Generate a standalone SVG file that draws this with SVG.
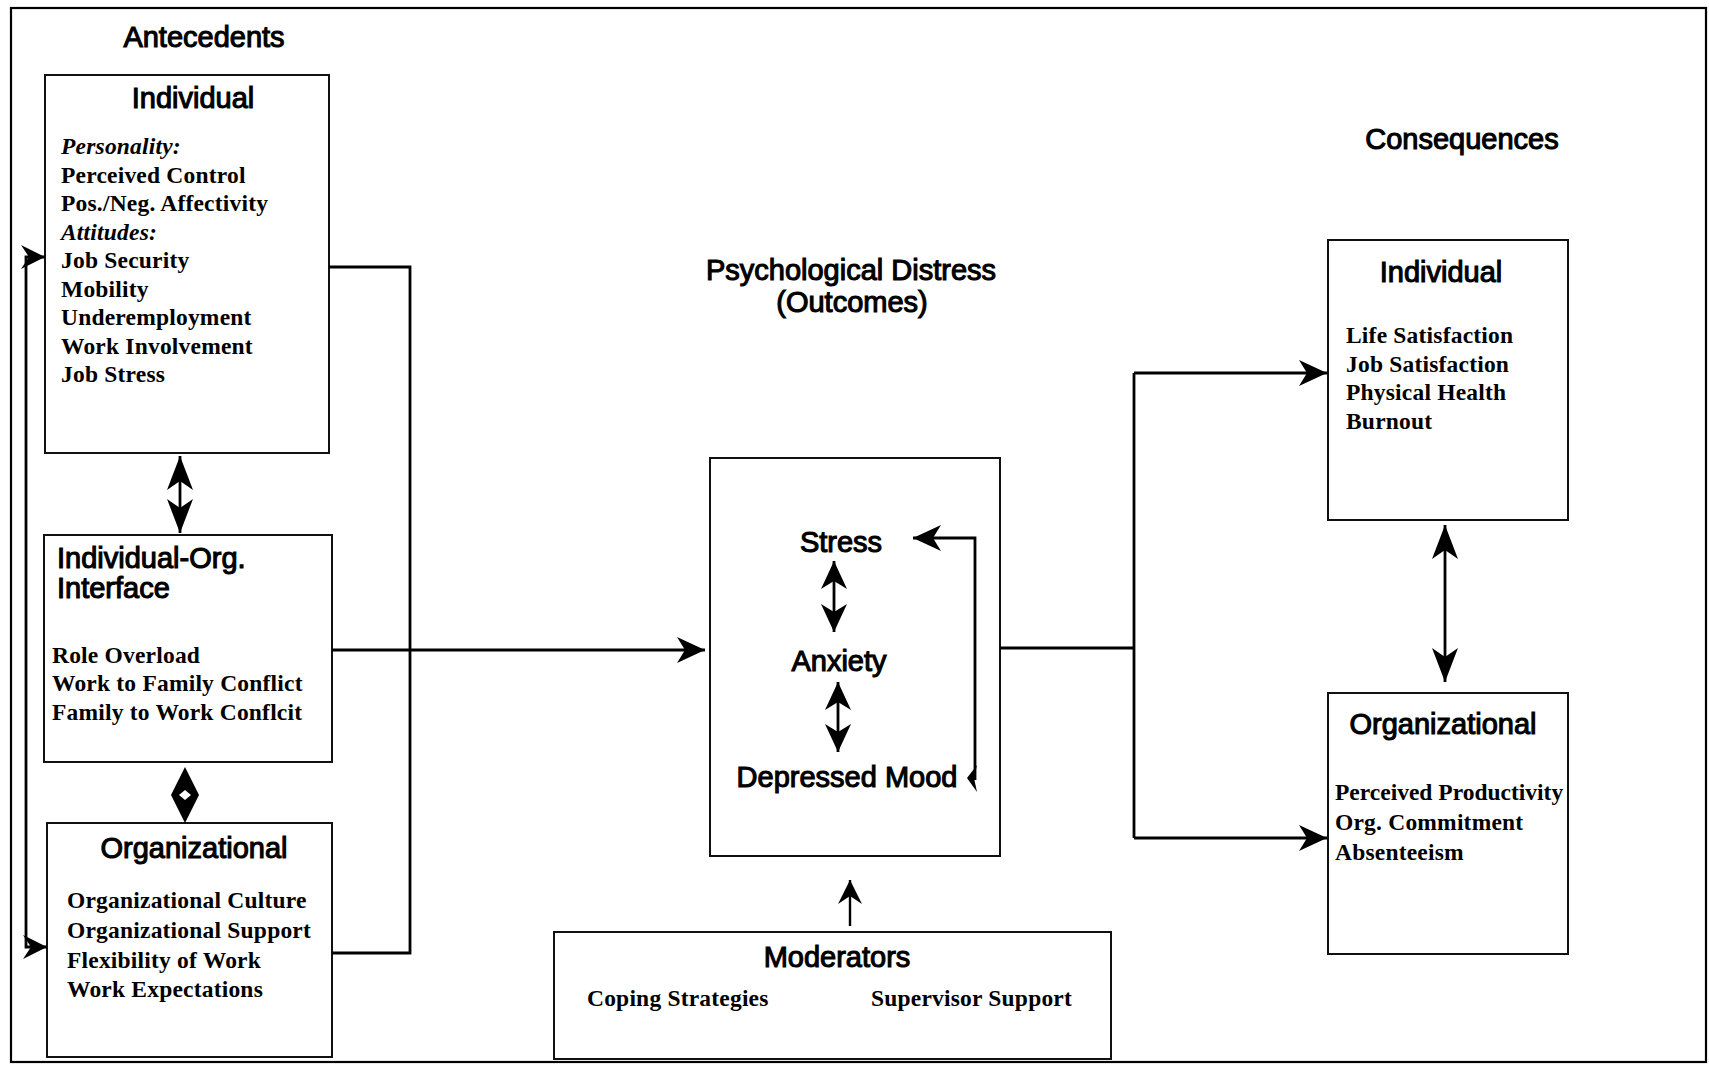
<svg xmlns="http://www.w3.org/2000/svg" width="1709" height="1065" viewBox="0 0 1709 1065">
  <style>
    .frame { fill: none; stroke: #000; stroke-width: 2.2; }
    .box { fill: #fff; stroke: #111; stroke-width: 2; }
    .open { fill: none; stroke: #111; stroke-width: 2; }
    .head { font-family: "Liberation Sans", Arial, sans-serif; font-size: 29px; fill: #000; stroke: #000; stroke-width: 1.1; }
    .item { font-family: "Liberation Serif", "Times New Roman", serif; font-size: 23.5px; font-weight: bold; fill: #000; letter-spacing: 0.2px; }
    .tight { letter-spacing: 0; }
    .itl { font-style: italic; }
    .wire { fill: none; stroke: #000; stroke-width: 2.8; }
    .thin { fill: none; stroke: #000; stroke-width: 2.4; }
  </style>
  <defs>
    <marker id="arrow" viewBox="-30 -15 32 30" refX="0" refY="0" markerWidth="32" markerHeight="30" markerUnits="userSpaceOnUse" orient="auto-start-reverse">
      <path d="M0,0 L-28,-13 L-20,0 L-28,13 Z" fill="#000"/>
    </marker>
    <marker id="arrowL" viewBox="-36 -15 38 30" refX="0" refY="0" markerWidth="38" markerHeight="30" markerUnits="userSpaceOnUse" orient="auto-start-reverse">
      <path d="M0,0 L-34,-13 L-25,0 L-34,13 Z" fill="#000"/>
    </marker>
    <marker id="arrowS" viewBox="-26 -13 28 26" refX="0" refY="0" markerWidth="28" markerHeight="26" markerUnits="userSpaceOnUse" orient="auto-start-reverse">
      <path d="M0,0 L-24,-12 L-16,0 L-24,12 Z" fill="#000"/>
    </marker>
  </defs>

  <rect class="frame" x="11" y="8" width="1695" height="1054"/>

  <!-- section captions -->
  <text class="head" x="204" y="47" text-anchor="middle">Antecedents</text>
  <text class="head" x="851" y="280" text-anchor="middle">Psychological Distress</text>
  <text class="head" x="852" y="312" text-anchor="middle">(Outcomes)</text>
  <text class="head" x="1462" y="149" text-anchor="middle">Consequences</text>

  <!-- Antecedents: Individual -->
  <g id="ant-individual">
    <rect class="box" x="45" y="75" width="284" height="378"/>
    <text class="head" x="193" y="108" text-anchor="middle">Individual</text>
    <text class="item itl" x="61" y="154">Personality:</text>
    <text class="item" x="61" y="182.5">Perceived Control</text>
    <text class="item" x="61" y="211">Pos./Neg. Affectivity</text>
    <text class="item itl" x="61" y="239.5">Attitudes:</text>
    <text class="item" x="61" y="268">Job Security</text>
    <text class="item" x="61" y="296.5">Mobility</text>
    <text class="item" x="61" y="325">Underemployment</text>
    <text class="item" x="61" y="353.5">Work Involvement</text>
    <text class="item" x="61" y="382">Job Stress</text>
  </g>

  <!-- Antecedents: Individual-Org. Interface -->
  <g id="ant-interface">
    <rect class="box" x="44" y="535" width="288" height="227"/>
    <text class="head" x="57" y="568">Individual-Org.</text>
    <text class="head" x="57" y="598">Interface</text>
    <text class="item" x="52" y="663">Role Overload</text>
    <text class="item" x="52" y="691">Work to Family Conflict</text>
    <text class="item" x="52" y="720">Family to Work Conflcit</text>
  </g>

  <!-- Antecedents: Organizational -->
  <g id="ant-organizational">
    <rect class="box" x="47" y="823" width="285" height="234"/>
    <text class="head" x="194" y="858" text-anchor="middle">Organizational</text>
    <text class="item" x="67" y="908">Organizational Culture</text>
    <text class="item" x="67" y="938">Organizational Support</text>
    <text class="item" x="67" y="968">Flexibility of Work</text>
    <text class="item" x="67" y="997">Work Expectations</text>
  </g>

  <!-- Psychological distress outcomes -->
  <g id="distress">
    <rect class="open" x="710" y="458" width="290" height="398"/>
    <text class="head" x="841" y="552" text-anchor="middle">Stress</text>
    <text class="head" x="839" y="671" text-anchor="middle">Anxiety</text>
    <text class="head" x="847" y="787" text-anchor="middle">Depressed Mood</text>
  </g>

  <!-- Moderators -->
  <g id="moderators">
    <rect class="box" x="554" y="932" width="557" height="127"/>
    <text class="head" x="837" y="967" text-anchor="middle">Moderators</text>
    <text class="item" x="587" y="1006">Coping Strategies</text>
    <text class="item" x="871" y="1006">Supervisor Support</text>
  </g>

  <!-- Consequences: Individual -->
  <g id="con-individual">
    <rect class="box" x="1328" y="240" width="240" height="280"/>
    <text class="head" x="1441" y="282" text-anchor="middle">Individual</text>
    <text class="item" x="1346" y="343">Life Satisfaction</text>
    <text class="item" x="1346" y="372">Job Satisfaction</text>
    <text class="item" x="1346" y="400">Physical Health</text>
    <text class="item" x="1346" y="429">Burnout</text>
  </g>

  <!-- Consequences: Organizational -->
  <g id="con-organizational">
    <rect class="box" x="1328" y="693" width="240" height="261"/>
    <text class="head" x="1443" y="734" text-anchor="middle">Organizational</text>
    <text class="item tight" x="1335" y="800">Perceived Productivity</text>
    <text class="item" x="1335" y="830">Org.  Commitment</text>
    <text class="item" x="1335" y="860">Absenteeism</text>
  </g>

  <!-- connectors -->
  <g id="connectors">
    <!-- feedback bracket on the far left -->
    <path class="wire" d="M45,257 H26 V947 H47" marker-start="url(#arrowS)" marker-end="url(#arrowS)"/>
    <!-- antecedent collector -->
    <path class="wire" d="M329,267 H410 V953 H332"/>
    <path class="wire" d="M332,650 H705" marker-end="url(#arrow)"/>
    <!-- antecedent box links -->
    <path class="wire" d="M180,456 V533" stroke-width="3.6" marker-start="url(#arrowL)" marker-end="url(#arrowL)"/>
    <path d="M185,767 L171,795 L185,823 L199,795 Z" fill="#000"/>
    <path d="M179,795 L185,790 L191,795 L185,800 Z" fill="#fff"/>
    <!-- distress fan-out -->
    <path class="wire" d="M1000,648 H1134"/>
    <path class="wire" d="M1134,373 V838"/>
    <path class="wire" d="M1134,373 H1327" marker-end="url(#arrow)"/>
    <path class="wire" d="M1134,838 H1327" marker-end="url(#arrow)"/>
    <!-- consequence link -->
    <path class="wire" d="M1445,525 V682" stroke-width="3.2" marker-start="url(#arrowL)" marker-end="url(#arrowL)"/>
    <!-- moderators -->
    <path class="thin" d="M850,926 V880" marker-end="url(#arrowS)"/>
    <!-- links inside the distress box -->
    <path class="wire" d="M834,561 V632" stroke-width="3.2" marker-start="url(#arrow)" marker-end="url(#arrow)"/>
    <path class="wire" d="M838,682 V752" stroke-width="3.2" marker-start="url(#arrow)" marker-end="url(#arrow)"/>
    <path class="wire" d="M975,780 V538 H913" marker-end="url(#arrow)"/>
    <path d="M967,778 L977,765 L974,778 L977,792 Z" fill="#000"/>
  </g>
</svg>
